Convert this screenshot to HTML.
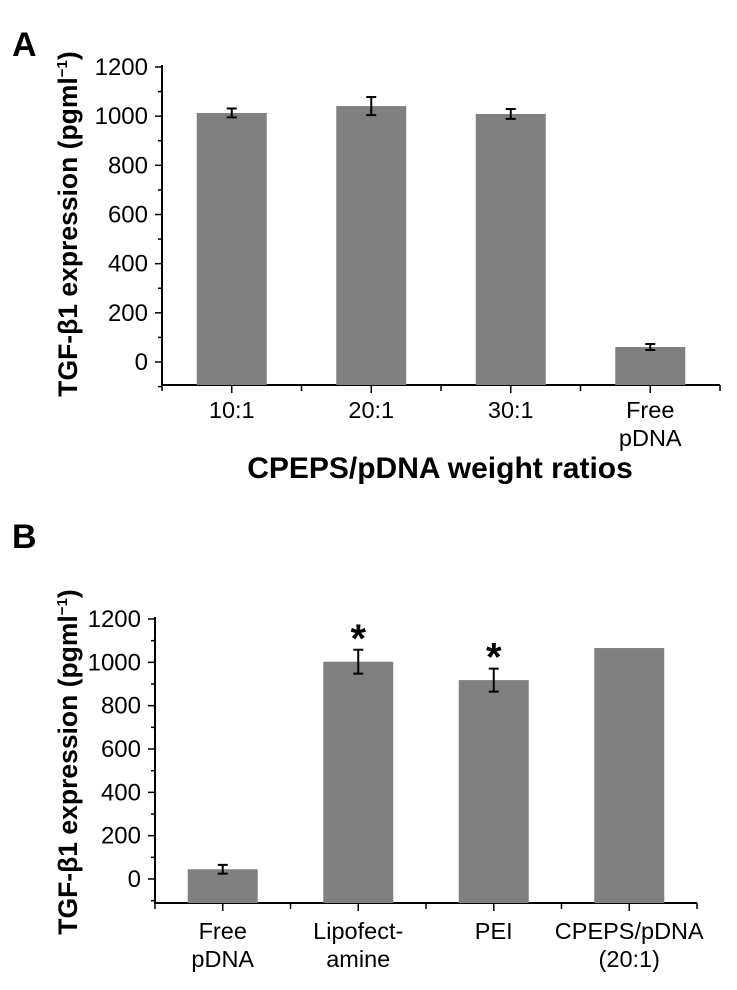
<!DOCTYPE html>
<html><head><meta charset="utf-8"><style>
html,body{margin:0;padding:0;background:#fff;}
svg{display:block;font-family:"Liberation Sans",Arial,sans-serif;}
</style></head><body>
<svg id="fig" width="737" height="990" viewBox="0 0 737 990">
<text x="12" y="56" font-size="34" font-weight="bold">A</text>
<text x="12" y="548" font-size="34" font-weight="bold">B</text>
<text transform="translate(77,224) rotate(-90)" text-anchor="middle" font-size="26.5" font-weight="bold">TGF-β1 expression (pgml<tspan dy="-10" font-size="15">−1</tspan><tspan dy="10">)</tspan></text>
<text transform="translate(77,762) rotate(-90)" text-anchor="middle" font-size="26.5" font-weight="bold">TGF-β1 expression (pgml<tspan dy="-10" font-size="15">−1</tspan><tspan dy="10">)</tspan></text>
<text x="440" y="478" text-anchor="middle" font-size="30" font-weight="bold">CPEPS/pDNA weight ratios</text>
<g id="pa"></g><g id="pb"></g>
</svg>
<script>
const catsA = [["10:1"],["20:1"],["30:1"],["Free","pDNA"]];
const valsA = [1013, 1041, 1009, 61];
const errsA = [18, 37, 20, 12];
const catsB = [["Free","pDNA"],["Lipofect-","amine"],["PEI"],["CPEPS/pDNA","(20:1)"]];
const valsB = [45, 1003, 918, 1066];
const errsB = [20, 55, 53, 0];
const starsB = [false, true, true, false];
const yTicks = [0, 200, 400, 600, 800, 1000, 1200];

const NS="http://www.w3.org/2000/svg";
function mk(p,tag,a){const e=document.createElementNS(NS,tag);for(const k in a)e.setAttribute(k,a[k]);p.appendChild(e);return e;}

function panel(g,cfg,cats,vals,errs,stars){
  const y=v=>cfg.y0-(v/1200)*(cfg.y0-cfg.y1200);
  const step=(cfg.xEnd-cfg.ax)/cats.length;
  const cx=i=>cfg.ax+step*(i+0.5);
  let e=mk(g,'line',{x1:cfg.ax,y1:y(1200)-2,x2:cfg.ax,y2:cfg.axY,stroke:'#000','stroke-width':2});
  
  
  e=mk(g,'line',{x1:cfg.ax-1,y1:cfg.axY,x2:cfg.xEnd,y2:cfg.axY,stroke:'#000','stroke-width':2});
  
  
  for(let v=-100;v<=1200;v+=100){
    const major=v%200===0;
    const t=mk(g,'line',{x1:cfg.ax-(major?7:4),y1:y(v),x2:cfg.ax,y2:y(v),stroke:'#000','stroke-width':1.5});
    
    
  }
  yTicks.forEach(v=>{
    const t=mk(g,'text',{x:cfg.ax-14,y:y(v)+8,'text-anchor':'end','font-size':24});
    t.textContent=v;
    
    
  });
  for(let i=0;i<=cats.length;i++){
    const t=mk(g,'line',{x1:cfg.ax+step*i,y1:cfg.axY,x2:cfg.ax+step*i,y2:cfg.axY+6,stroke:'#000','stroke-width':1.5});
    
    
  }
  cats.forEach((c,i)=>{
    const t=mk(g,'line',{x1:cx(i),y1:cfg.axY,x2:cx(i),y2:cfg.axY+8,stroke:'#000','stroke-width':1.5});
    
    
    const b=mk(g,'rect',{x:cx(i)-35,y:y(vals[i]),width:70,height:cfg.axY-y(vals[i]),fill:'#808080'});
    
    
    if(errs[i]>0){
      const hi=y(vals[i]+errs[i]),lo=y(vals[i]-errs[i]);
      const eb=mk(g,'path',{d:`M${cx(i)},${hi}V${lo}M${cx(i)-5},${hi}H${cx(i)+5}M${cx(i)-5},${lo}H${cx(i)+5}`,stroke:'#000','stroke-width':2,fill:'none'});
      
      
    }
    if(stars&&stars[i]){
      const s=mk(g,'text',{x:cx(i),y:y(vals[i]+errs[i])+2,'text-anchor':'middle','font-size':40,'font-weight':'bold'});
      s.textContent='*';
      
      
    }
    c.forEach((line,j)=>{
      const t=mk(g,'text',{x:cx(i),y:cfg.labY+j*28,'text-anchor':'middle','font-size':23.5});
      t.textContent=line;
      
      
    });
  });
}
panel(document.getElementById('pa'),{ax:162,xEnd:720,y0:362,y1200:67,axY:385,labY:418},catsA,valsA,errsA,null);
panel(document.getElementById('pb'),{ax:155,xEnd:697,y0:879,y1200:619,axY:903,labY:939},catsB,valsB,errsB,starsB);
</script>
</body></html>
